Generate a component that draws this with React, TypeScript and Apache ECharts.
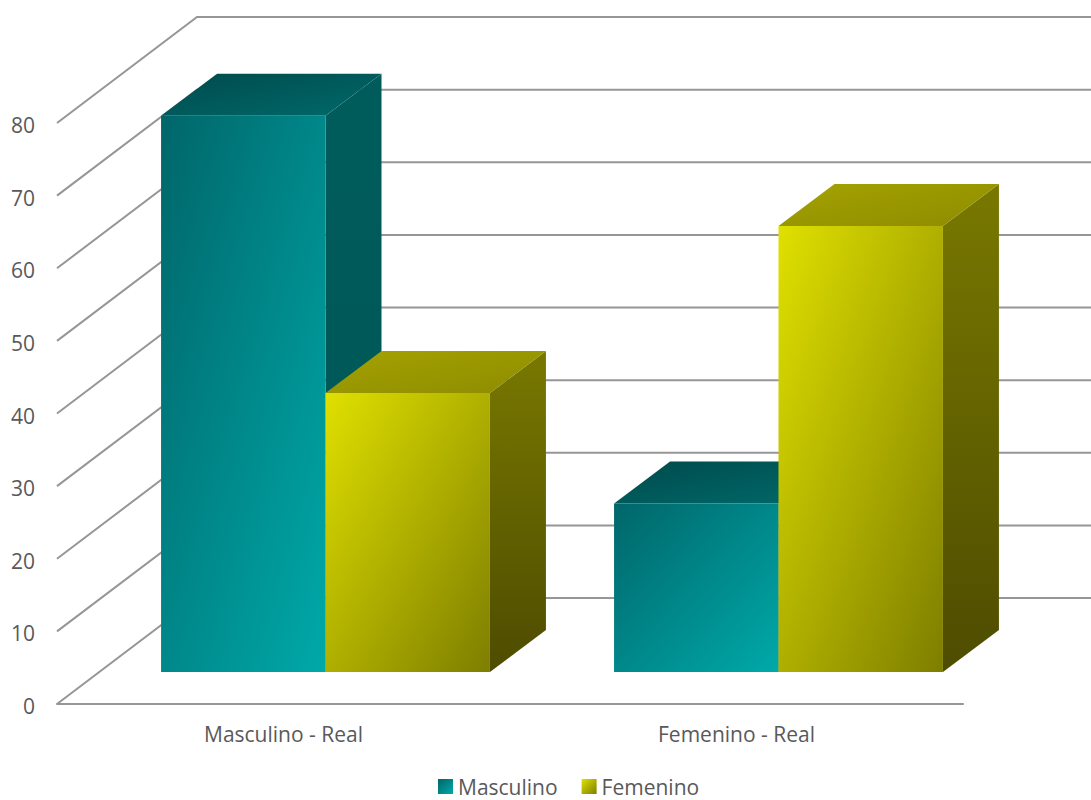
import React, { useEffect, useRef } from "react";
import * as echarts from "echarts";

const categories = ["Masculino - Real", "Femenino - Real"];
const masculino = [76.6, 23.2];
const femenino = [38.4, 61.4];
const axisTicks = [0, 10, 20, 30, 40, 50, 60, 70, 80];

const AXIS_MAX = 80;
const AXIS_STEP = 10;

// Oblique projection: how far the back wall sits from the front plane,
// where the bars stand inside that depth, and how deep each bar is.
const WALL_DX = 140;
const WALL_DY = -106;
const BAR_INSET_DX = 42;
const BAR_INSET_DY = -32;
const BAR_DEPTH_DX = 56;
const BAR_DEPTH_DY = -42;
const BAR_BAND_SHARE = 0.363;

const GRID_COLOR = "#969696";
const TEXT_COLOR = "#595959";
const FONT = "'Open Sans', sans-serif";

type Palette = {
  front: [string, string];
  top: [string, string];
  side: [string, string];
};

const tealPalette: Palette = {
  front: ["#00666a", "#00a9a9"],
  top: ["#004a4c", "#006a6a"],
  side: ["#005c5c", "#005656"],
};
const olivePalette: Palette = {
  front: ["#e0e000", "#7e7e00"],
  top: ["#a4a200", "#8e8c00"],
  side: ["#787800", "#4e4c00"],
};

const diagonal = ([from, to]: [string, string]) =>
  new echarts.graphic.LinearGradient(0, 0, 1, 1, [
    { offset: 0, color: from },
    { offset: 1, color: to },
  ]);
const vertical = ([from, to]: [string, string]) =>
  new echarts.graphic.LinearGradient(0, 0, 0, 1, [
    { offset: 0, color: from },
    { offset: 1, color: to },
  ]);

// One box: front face, top face and right-hand side, projected from the value scale.
const renderBar =
  (palette: Palette, side: -1 | 1) => (_params: any, api: any) => {
    const category = api.value(0);
    const [cx, yTop] = api.coord([category, api.value(1)]);
    const [, yBase] = api.coord([category, 0]);
    const width = api.size([1, 0])[0] * BAR_BAND_SHARE;
    const x0 = cx + BAR_INSET_DX + (side < 0 ? -width : 0);
    const x1 = x0 + width;
    const top = yTop + BAR_INSET_DY;
    const bottom = yBase + BAR_INSET_DY;
    const dx = BAR_DEPTH_DX;
    const dy = BAR_DEPTH_DY;
    return {
      type: "group",
      children: [
        {
          type: "polygon",
          shape: {
            points: [
              [x1, top],
              [x1 + dx, top + dy],
              [x1 + dx, bottom + dy],
              [x1, bottom],
            ],
          },
          style: { fill: vertical(palette.side) },
        },
        {
          type: "polygon",
          shape: {
            points: [
              [x0, top],
              [x0 + dx, top + dy],
              [x1 + dx, top + dy],
              [x1, top],
            ],
          },
          style: { fill: diagonal(palette.top) },
        },
        {
          type: "rect",
          shape: { x: x0, y: top, width, height: bottom - top },
          style: { fill: diagonal(palette.front) },
        },
      ],
    };
  };

// Side wall and back wall rule for one axis tick.
const renderWallLine = (params: any, api: any) => {
  const grid = params.coordSys;
  const y = api.coord([0, api.value(1)])[1];
  return {
    type: "polyline",
    shape: {
      points: [
        [grid.x, y],
        [grid.x + WALL_DX, y + WALL_DY],
        [grid.x + grid.width + WALL_DX, y + WALL_DY],
      ],
    },
    style: { fill: "none", stroke: GRID_COLOR, lineWidth: 2 },
  };
};

export default function App() {
  const ref = useRef<HTMLDivElement>(null);

  useEffect(() => {
    document.body.style.margin = "0";
    const chart = echarts.init(ref.current!, undefined, { renderer: "svg" });
    chart.setOption({
      animation: false,
      backgroundColor: "#ffffff",
      grid: { left: 57, right: 128, top: 123, bottom: 96, containLabel: false },
      legend: {
        left: 438,
        top: 776,
        padding: 0,
        itemWidth: 15,
        itemHeight: 15,
        itemGap: 24,
        textStyle: {
          color: TEXT_COLOR,
          fontFamily: FONT,
          fontSize: 21,
          lineHeight: 16,
        },
        data: [
          { name: "Masculino", icon: "rect", itemStyle: { color: diagonal(tealPalette.front) } },
          { name: "Femenino", icon: "rect", itemStyle: { color: diagonal(olivePalette.front) } },
        ],
      },
      xAxis: {
        type: "category",
        data: categories,
        axisLine: { show: true, lineStyle: { color: GRID_COLOR, width: 2 } },
        axisTick: { show: false },
        axisLabel: {
          color: TEXT_COLOR,
          fontFamily: FONT,
          fontSize: 21,
          margin: 19,
        },
      },
      yAxis: {
        type: "value",
        min: 0,
        max: AXIS_MAX,
        interval: AXIS_STEP,
        axisLine: { show: false },
        axisTick: { show: false },
        splitLine: { show: false },
        axisLabel: {
          margin: 22,
          formatter: "{tick|{value}}",
          rich: {
            tick: {
              color: TEXT_COLOR,
              fontFamily: FONT,
              fontSize: 21,
              padding: [4, 0, 0, 0],
            },
          },
        },
      },
      series: [
        {
          type: "custom",
          name: "wall",
          silent: true,
          z: 1,
          renderItem: renderWallLine,
          data: axisTicks.map((t) => [0, t]),
        },
        {
          type: "custom",
          name: "Masculino",
          z: 2,
          renderItem: renderBar(tealPalette, -1),
          itemStyle: { color: tealPalette.front[1] },
          data: masculino.map((v, i) => [i, v]),
        },
        {
          type: "custom",
          name: "Femenino",
          z: 3,
          renderItem: renderBar(olivePalette, 1),
          itemStyle: { color: olivePalette.front[0] },
          data: femenino.map((v, i) => [i, v]),
        },
      ],
    });
    return () => chart.dispose();
  }, []);

  return <div ref={ref} style={{ width: 1091, height: 800 }} />;
}
